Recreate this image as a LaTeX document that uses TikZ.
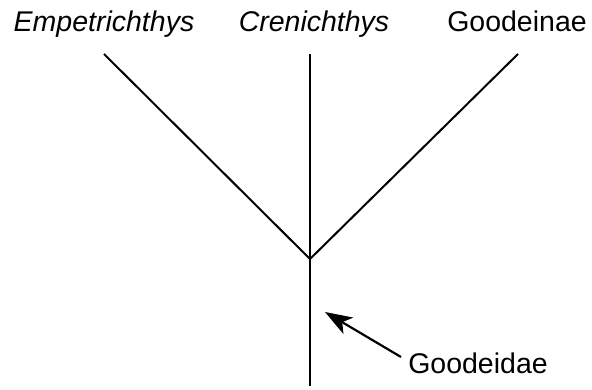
\documentclass[tikz,border=0pt]{standalone}
\usepackage{fontspec}
\setmainfont{Liberation Sans}
\usetikzlibrary{arrows.meta}
\begin{document}
\begin{tikzpicture}[x=1pt,y=-1pt,
  lbl/.style={font=\fontsize{28.5}{32}\selectfont, anchor=base, inner sep=0pt},
  branch/.style={line width=2pt, line cap=butt, line join=miter},
  pointer/.style={line width=2.2pt, -{Stealth[length=27pt, width=19pt, inset=7pt]}}]
\useasboundingbox (0,0) rectangle (592,390);
\node[lbl] (emp) at (104,32) {\itshape Empetrichthys};
\node[lbl] (cre) at (314,32) {\itshape Crenichthys};
\node[lbl] (goo) at (517,32) {Goodeinae};
\node[lbl] (gdd) at (478,373) {Goodeidae};
\coordinate (empT) at (104,54);
\coordinate (creT) at (310,54);
\coordinate (gooT) at (518,54);
\coordinate (root) at (310,259);
\coordinate (base) at (310,386);
\coordinate (tip) at (325,312);
\coordinate (tail) at (401,357);
\draw[branch] (empT) -- (root) -- (gooT);
\draw[branch] (creT) -- (base);
\draw[pointer] (tail) -- (tip);
\end{tikzpicture}
\end{document}
